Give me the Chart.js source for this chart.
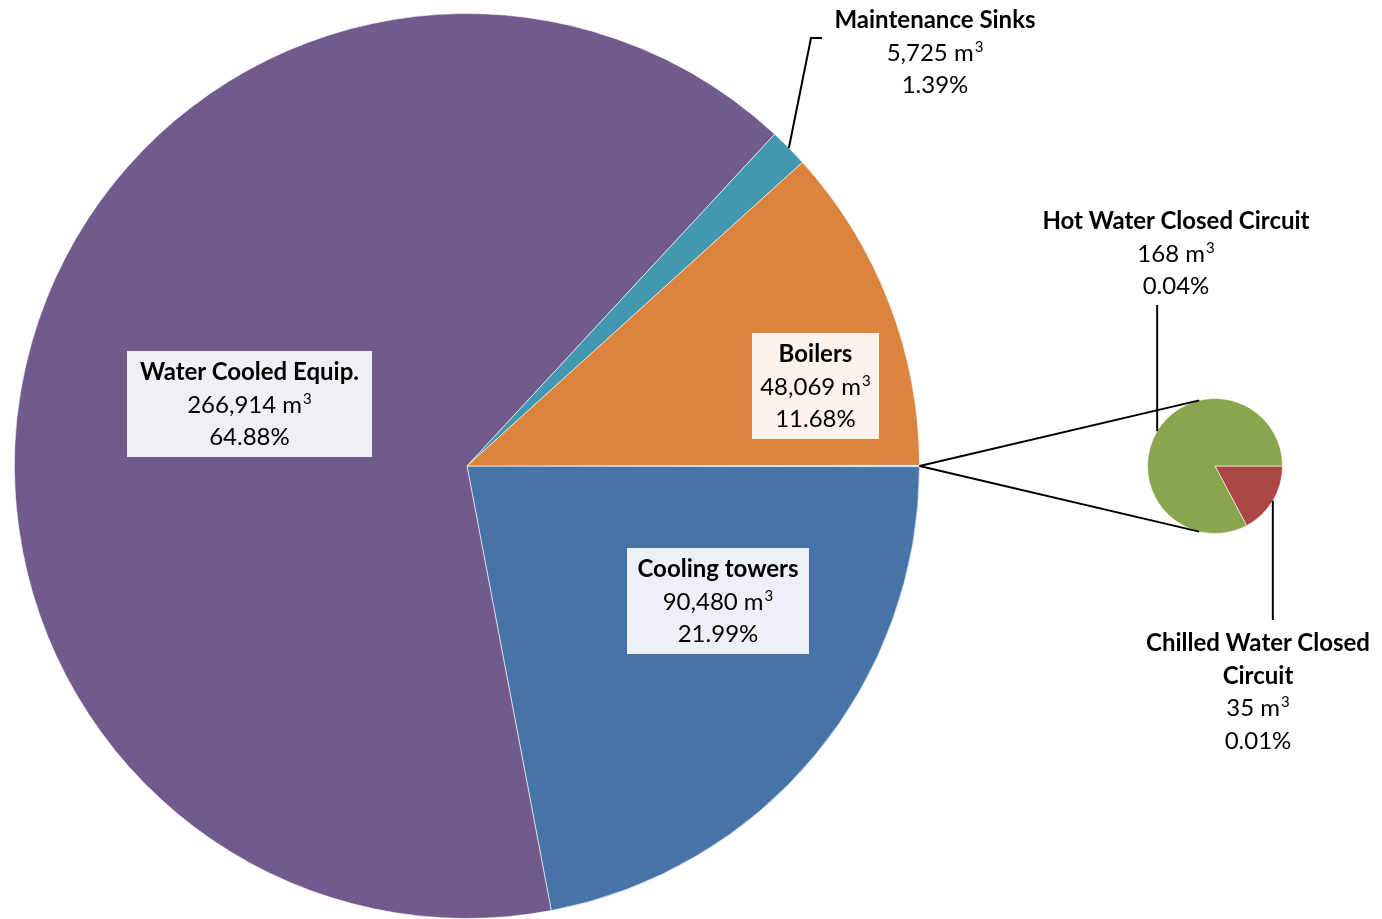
<!DOCTYPE html>
<html>
<head>
<meta charset="utf-8">
<title>Water consumption by use</title>
<script src="https://cdn.jsdelivr.net/npm/chart.js@4.4.1/dist/chart.umd.min.js"></script>
<style>
  html, body { margin: 0; padding: 0; background: #fff; }
  #wrap { position: relative; width: 1382px; height: 919px; overflow: hidden; }
  #wrap canvas { position: absolute; left: 0; top: 0; }
  .lbl {
    position: absolute;
    font-family: Lato, "Open Sans", sans-serif;
    font-size: 24px;
    line-height: 32.5px;
    color: #000;
    text-align: center;
    white-space: nowrap;
    transform: translateX(-50%);
  }
  .lbl b { font-weight: bold; }
  .lbl sup { font-size: 15px; line-height: 0; vertical-align: 0; position: relative; top: -9px; margin-left: 1px; }
  .box {
    background: rgba(255, 255, 255, 0.9);
    display: flex; align-items: center; justify-content: center;
    transform: none;
  }
</style>
</head>
<body>
<div id="wrap">
  <canvas id="mainPie" width="1382" height="919"></canvas>
  <canvas id="subPie" width="1382" height="919"></canvas>
</div>
<script>
// consumption by use, m3
const mainCategories = ['Cooling towers', 'Water Cooled Equip.', 'Maintenance Sinks', 'Boilers'];
const mainVolumes = [90480, 266914, 5725, 48069];
const subCategories = ['Chilled Water Closed Circuit', 'Hot Water Closed Circuit'];
const subVolumes = [35, 168];

const mainColors = ['#4674A8', '#725A8C', '#4298B0', '#DB843D'];
const otherColor = '#9DB3D6';
const subColors = ['#AA4643', '#89A54E'];

const otherVolume = subVolumes.reduce((a, b) => a + b, 0);
const total = mainVolumes.reduce((a, b) => a + b, 0) + otherVolume;
const otherDeg = otherVolume / total * 360;

// label placement: boxed labels sit on the slice, the rest float with leader lines
const labelLayout = {
  'Water Cooled Equip.': { box: [127, 351, 245, 106] },
  'Boilers': { box: [752, 333, 127, 106] },
  'Cooling towers': { box: [627, 548, 182, 106] },
  'Maintenance Sinks': { cx: 935, top: 3 },
  'Hot Water Closed Circuit': { cx: 1176, top: 204 },
  'Chilled Water Closed Circuit': { cx: 1258, top: 626, lines: ['Chilled Water Closed', 'Circuit'] }
};

function fmt(v) { return v.toLocaleString('en-US'); }

function addLabel(name, value) {
  const lay = labelLayout[name];
  const el = document.createElement('div');
  el.className = 'lbl';
  const title = (lay.lines || [name]).map(t => '<b>' + t + '</b>').join('<br>');
  const html = title + '<br>' + fmt(value) + ' m<sup>3</sup><br>' +
    (value / total * 100).toFixed(2) + '%';
  if (lay.box) {
    el.classList.add('box');
    el.innerHTML = '<div>' + html + '</div>';
    el.style.left = lay.box[0] + 'px';
    el.style.top = lay.box[1] + 'px';
    el.style.width = lay.box[2] + 'px';
    el.style.height = lay.box[3] + 'px';
  } else {
    el.innerHTML = html;
    el.style.left = lay.cx + 'px';
    el.style.top = lay.top + 'px';
  }
  document.getElementById('wrap').appendChild(el);
}

mainCategories.forEach((c, i) => addLabel(c, mainVolumes[i]));
subCategories.forEach((c, i) => addLabel(c, subVolumes[i]));

const baseOptions = {
  responsive: false,
  animation: false,
  events: [],
  plugins: { legend: { display: false }, tooltip: { enabled: false } }
};

const mainChart = new Chart(document.getElementById('mainPie'), {
  type: 'pie',
  data: {
    labels: ['Other'].concat(mainCategories),
    datasets: [{
      data: [otherVolume].concat(mainVolumes),
      backgroundColor: [otherColor].concat(mainColors),
      borderColor: 'rgba(255,255,255,0.6)',
      borderWidth: 1,
      hoverOffset: 0
    }]
  },
  options: Object.assign({}, baseOptions, {
    rotation: 90 - otherDeg / 2,
    layout: { padding: { left: 14, top: 13, right: 462, bottom: 0 } }
  })
});

function arcPoint(arc, ang, r) {
  return [arc.x + r * Math.cos(ang), arc.y + r * Math.sin(ang)];
}

// connector and leader lines, drawn over both pies
const linesPlugin = {
  id: 'pieLines',
  afterDraw(chart) {
    const ctx = chart.ctx;
    const mainArcs = mainChart.getDatasetMeta(0).data;
    const subArcs = chart.getDatasetMeta(0).data;
    const m = mainArcs[0], s = subArcs[0];
    const deg = Math.PI / 180;
    ctx.save();
    ctx.strokeStyle = '#000';
    ctx.lineWidth = 2;

    // pie-to-pie connectors
    const from = [m.x + m.outerRadius, m.y];
    [-103.5, 103.5].forEach(a => {
      const to = arcPoint(s, a * deg, s.outerRadius);
      ctx.beginPath();
      ctx.moveTo(from[0], from[1]);
      ctx.lineTo(to[0], to[1]);
      ctx.stroke();
    });

    // Maintenance Sinks leader
    const sink = mainArcs[3];
    const sMid = (sink.startAngle + sink.endAngle) / 2;
    const p = arcPoint(sink, sMid, sink.outerRadius);
    ctx.beginPath();
    ctx.moveTo(p[0], p[1]);
    ctx.lineTo(811, 38);
    ctx.lineTo(822, 38);
    ctx.stroke();

    // Hot water leader (up) and chilled water leader (down)
    const hot = subArcs[1];
    const hp = arcPoint(hot, (hot.startAngle + hot.endAngle) / 2, hot.outerRadius);
    ctx.beginPath();
    ctx.moveTo(hp[0], hp[1]);
    ctx.lineTo(hp[0], 305);
    ctx.stroke();

    const cold = subArcs[0];
    const cp = arcPoint(cold, (cold.startAngle + cold.endAngle) / 2, cold.outerRadius);
    ctx.beginPath();
    ctx.moveTo(cp[0], cp[1]);
    ctx.lineTo(cp[0], 620);
    ctx.stroke();
    ctx.restore();
  }
};

new Chart(document.getElementById('subPie'), {
  type: 'pie',
  data: {
    labels: subCategories,
    datasets: [{
      data: subVolumes,
      backgroundColor: subColors,
      borderColor: 'rgba(255,255,255,0.6)',
      borderWidth: 1,
      hoverOffset: 0
    }]
  },
  options: Object.assign({}, baseOptions, {
    rotation: 90,
    layout: { padding: { left: 1147, top: 398, right: 99, bottom: 385 } }
  }),
  plugins: [linesPlugin]
});
</script>
</body>
</html>
